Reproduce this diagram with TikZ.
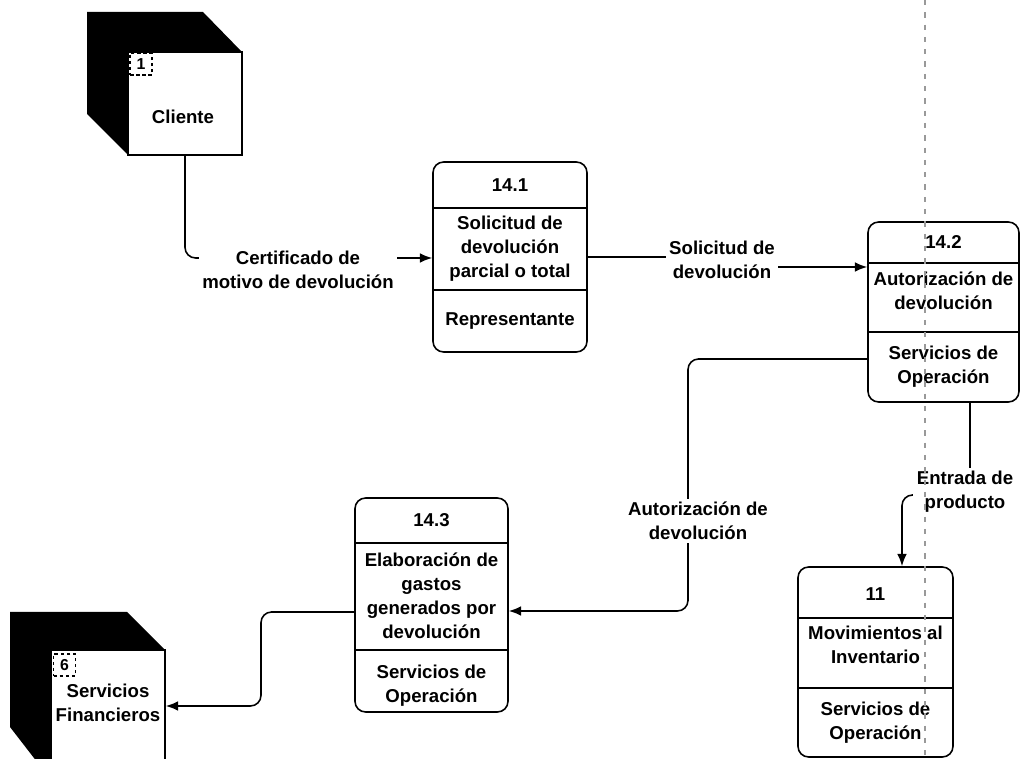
\documentclass[tikz,border=0pt]{standalone}
\usepackage{fontspec}
\setmainfont{Liberation Sans}
\usetikzlibrary{arrows.meta}

\begin{document}
\begin{tikzpicture}[x=0.02cm,y=-0.02cm,line width=0.9pt,
	font=\fontsize{10.6}{13.6}\selectfont\bfseries,
	proc/.style={draw,rounded corners=6pt,inner sep=0pt},
	ent/.style={draw,fill=white,inner sep=0pt,minimum width=2.28cm},
	num/.style={draw,dash pattern=on 2pt off 1.5pt,line width=0.7pt,inner sep=0pt,
		minimum size=0.44cm,font=\fontsize{9}{10}\selectfont\bfseries},
	txt/.style={align=center,inner sep=1pt},
	flujo/.style={-{Latex[length=7pt,width=5.5pt]},rounded corners=6pt},
	etiq/.style={fill=white,align=center,inner sep=2pt}]

\clip (0,0) rectangle (1022,759);

% entidades externas
\fill (87,12) -- (203,12) -- (242,52) -- (128,52) -- (128,155) -- (87,114) -- cycle;
\node[ent,minimum height=2.06cm](cli) at (185,103.5){};
\node[num](n1) at (141,64){1};
\node[txt](tcli) at (183,117){Cliente};

\fill (10,612) -- (127,612) -- (165,650) -- (51,650) -- (51,780) -- (10,727) -- cycle;
\node[ent,minimum height=2.8cm](sf) at (108,720){};
\node[num](n6) at (64.5,665){6};
\node[txt](tsf) at (108,703){Servicios\\Financieros};

% procesos
\node[proc,minimum width=3.08cm,minimum height=3.8cm](p141) at (510,257){};
\draw (p141.west |- 0,208) -- (p141.east |- 0,208)
	(p141.west |- 0,290) -- (p141.east |- 0,290);
\node[txt](t141a) at (510,185){14.1};
\node[txt](t141b) at (510,249){Solicitud de\\devolución\\parcial o total};
\node[txt](t141c) at (510,321){Representante};

\node[proc,minimum width=3.02cm,minimum height=3.6cm](p142) at (943.5,312){};
\draw (p142.west |- 0,263) -- (p142.east |- 0,263)
	(p142.west |- 0,332) -- (p142.east |- 0,332);
\node[txt](t142a) at (943.5,242.5){14.2};
\node[txt](t142b) at (943.5,291){Autorización de\\devolución};
\node[txt](t142c) at (943.5,367){Servicios de\\Operación};

\node[proc,minimum width=3.06cm,minimum height=4.28cm](p143) at (431.5,605){};
\draw (p143.west |- 0,543) -- (p143.east |- 0,543)
	(p143.west |- 0,650) -- (p143.east |- 0,650);
\node[txt](t143a) at (431.5,520){14.3};
\node[txt](t143b) at (431.5,596){Elaboración de\\gastos\\generados por\\devolución};
\node[txt](t143c) at (431.5,686){Servicios de\\Operación};

\node[proc,minimum width=3.1cm,minimum height=3.8cm](p11) at (875.5,662){};
\draw (p11.west |- 0,618) -- (p11.east |- 0,618)
	(p11.west |- 0,688) -- (p11.east |- 0,688);
\node[txt](t11a) at (875.5,594){11};
\node[txt](t11b) at (875.5,645){Movimientos al\\Inventario};
\node[txt](t11c) at (875.5,723){Servicios de\\Operación};

% flujos
\draw[flujo] (cli.south) |- (p141.west |- 0,258);
\node[etiq](f1) at (298,270){Certificado de\\motivo de devolución};

\draw[flujo] (p141.east |- 0,257) -- (722,257) -- (722,267) -- (p142.west |- 0,267);
\node[etiq](f2) at (722,260){Solicitud de\\devolución};

\draw[flujo] (p142.west |- 0,359) -- (688,359) -- (688,611) -- (p143.east |- 0,611);
\node[etiq](f3) at (698,521){Autorización de\\devolución};

\draw[flujo] (p142.south -| 970,0) -- (970,495) -- (902,495) -- (p11.north -| 902,0);
\node[etiq](f4) at (965,492){Entrada de\\producto};

\draw[flujo] (p143.west |- 0,612) -- (261,612) -- (261,706) -- (sf.east |- 0,706);

% corte de pagina
\draw[gray!80,line width=0.6pt,dash pattern=on 3pt off 4pt] (925,0) -- (925,759);

\end{tikzpicture}
\end{document}
